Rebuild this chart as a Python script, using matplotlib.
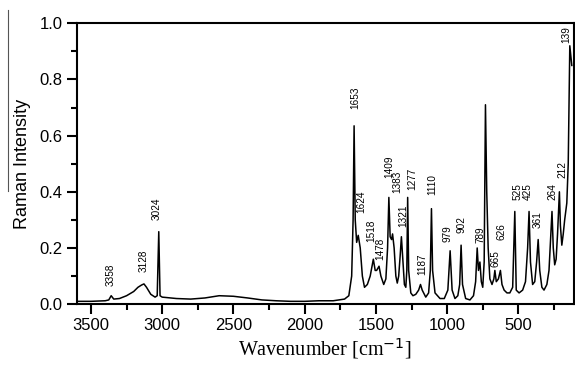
import matplotlib
matplotlib.use('Agg')
import matplotlib.pyplot as plt
from matplotlib.ticker import MultipleLocator
from matplotlib.lines import Line2D

# --- spectrum (wavenumber, intensity) ---
wavenumber = [3600, 3500, 3400, 3375, 3358, 3340, 3300, 3250, 3200, 3170, 3145,
              3128, 3110, 3080, 3050, 3035, 3024, 3015, 3000, 2900, 2800, 2700,
              2600, 2500, 2400, 2300, 2200, 2100, 2000, 1900, 1800, 1720, 1690,
              1670, 1660, 1653, 1645, 1635, 1624, 1610, 1595, 1580, 1560, 1540,
              1525, 1518, 1505, 1495, 1478, 1465, 1445, 1430, 1418, 1409, 1400,
              1390, 1383, 1372, 1360, 1350, 1340, 1330, 1321, 1310, 1300, 1290,
              1283, 1277, 1270, 1255, 1240, 1220, 1200, 1187, 1175, 1150, 1130,
              1118, 1110, 1102, 1085, 1050, 1020, 995, 979, 965, 945, 925, 912,
              902, 892, 870, 840, 815, 800, 789, 780, 770, 760, 750, 740, 731,
              722, 712, 700, 685, 672, 665, 655, 640, 626, 615, 600, 580, 560,
              540, 525, 515, 495, 470, 450, 435, 425, 415, 400, 385, 372, 361,
              350, 335, 320, 300, 285, 272, 264, 255, 245, 235, 225, 212, 205,
              195, 185, 175, 160, 150, 143, 139, 135, 125]
intensity = [0.010, 0.010, 0.012, 0.015, 0.030, 0.018, 0.020, 0.030, 0.045, 0.060, 0.068,
             0.072, 0.060, 0.035, 0.025, 0.030, 0.258, 0.030, 0.025, 0.020, 0.018, 0.022,
             0.030, 0.028, 0.022, 0.015, 0.012, 0.010, 0.010, 0.012, 0.012, 0.018, 0.030,
             0.100, 0.300, 0.635, 0.300, 0.220, 0.245, 0.200, 0.100, 0.060, 0.070, 0.100,
             0.140, 0.160, 0.120, 0.120, 0.135, 0.100, 0.070, 0.090, 0.200, 0.380, 0.240,
             0.230, 0.250, 0.200, 0.100, 0.075, 0.100, 0.170, 0.240, 0.150, 0.070, 0.060,
             0.120, 0.380, 0.120, 0.040, 0.030, 0.035, 0.050, 0.070, 0.050, 0.025, 0.040,
             0.120, 0.340, 0.120, 0.040, 0.020, 0.020, 0.050, 0.190, 0.050, 0.020, 0.030, 0.070,
             0.210, 0.070, 0.020, 0.015, 0.030, 0.080, 0.200, 0.120, 0.150, 0.080, 0.060, 0.150, 0.710,
             0.400, 0.200, 0.090, 0.070, 0.090, 0.120, 0.080, 0.090, 0.120, 0.070, 0.050, 0.040, 0.040,
             0.060, 0.330, 0.050, 0.040, 0.050, 0.080, 0.200, 0.330, 0.150, 0.070, 0.080, 0.150, 0.230,
             0.120, 0.060, 0.050, 0.070, 0.120, 0.250, 0.330, 0.200, 0.140, 0.160, 0.250, 0.400, 0.280,
             0.210, 0.250, 0.300, 0.360, 0.500, 0.750, 0.920, 0.900, 0.850]

# --- peak labels ---
peak_labels = ['3358', '3128', '3024', '1653', '1624', '1518', '1478', '1409',
               '1383', '1321', '1277', '1187', '1110', '979', '902', '789',
               '665', '626', '525', '425', '361', '264', '212', '139']
label_x = [3362, 3127, 3036, 1646, 1604, 1534, 1471, 1408, 1352, 1309, 1246,
           1176, 1106, 994, 896, 769, 664, 615, 509, 432, 362, 264, 194, 166]
label_y = [0.064, 0.113, 0.300, 0.695, 0.324, 0.220, 0.157, 0.449, 0.395, 0.274,
           0.406, 0.103, 0.388, 0.221, 0.253, 0.217, 0.132, 0.228, 0.370, 0.370,
           0.270, 0.370, 0.449, 0.930]

fig = plt.figure(figsize=(5.75, 3.7), dpi=100)
ax = fig.add_axes([0.1334, 0.178, 0.864, 0.759])

ax.plot(wavenumber, intensity, color='black', lw=1.1)

for txt, x, y in zip(peak_labels, label_x, label_y):
    ax.text(x, y, txt, rotation=90, ha='center', va='bottom',
            fontsize=7.2, family='Liberation Sans', clip_on=False)

ax.set_xlim(3600, 113)
ax.set_ylim(0, 1.0)
ax.xaxis.set_major_locator(MultipleLocator(500))
ax.xaxis.set_minor_locator(MultipleLocator(250))
ax.yaxis.set_major_locator(MultipleLocator(0.2))
ax.yaxis.set_minor_locator(MultipleLocator(0.1))
ax.tick_params(which='both', direction='out', width=1.5, top=False, right=False)
ax.tick_params(which='major', length=7, labelsize=12, pad=3)
ax.tick_params(which='minor', length=4)
for lab in ax.get_xticklabels() + ax.get_yticklabels():
    lab.set_family('Liberation Sans')
for sp in ax.spines.values():
    sp.set_linewidth(1.5)

plt.rcParams['mathtext.fontset'] = 'custom'
plt.rcParams['mathtext.rm'] = 'Liberation Serif'
ax.set_xlabel(r'Wavenumber [cm$^{-1}$]', fontsize=14.5, family='Liberation Serif', labelpad=2)
ax.set_ylabel('Raman Intensity', fontsize=13, family='Liberation Sans', labelpad=6)

# thin border line left of the y label
fig.add_artist(Line2D([8 / 575, 8 / 575], [1 - 10 / 370, 1 - 191 / 370],
                      transform=fig.transFigure, color='#555555', lw=0.8))

plt.savefig('out.png', dpi=100)
plt.close()
